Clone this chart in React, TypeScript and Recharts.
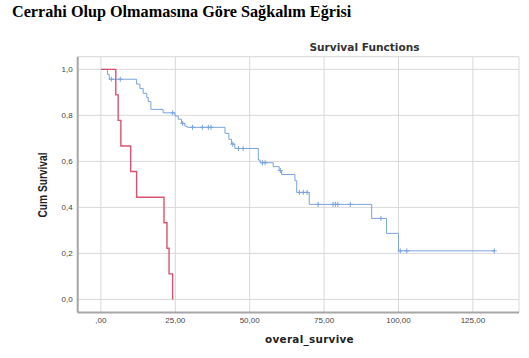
import React from 'react';
import { LineChart, Line, XAxis, YAxis, CartesianGrid } from 'recharts';

// Blue group (survival curve with censoring)
const blueTimes = [0, 2.2, 2.8, 3.5, 6.5, 12.0, 13.1, 14.2, 15.4, 15.9, 16.8, 20.9, 24.1, 24.9, 26.0, 27.1, 27.5, 28.2, 29.0, 30.8, 34.1, 36.1, 37.0, 41.7, 43.0, 43.9, 44.3, 45.0, 46.2, 47.8, 52.9, 53.5, 54.3, 55.2, 57.9, 59.9, 60.3, 60.7, 65.2, 65.8, 66.7, 68.0, 69.3, 70.0, 73.0, 78.0, 78.8, 79.6, 83.8, 91.0, 94.1, 96.0, 100.0, 100.6, 102.8, 132.2];
const blueSurv = [1.0, 0.978, 0.957, 0.957, 0.957, 0.936, 0.917, 0.896, 0.878, 0.86, 0.826, 0.811, 0.811, 0.797, 0.783, 0.765, 0.765, 0.753, 0.748, 0.748, 0.748, 0.748, 0.748, 0.722, 0.696, 0.675, 0.675, 0.656, 0.656, 0.656, 0.606, 0.594, 0.594, 0.594, 0.577, 0.56, 0.56, 0.543, 0.516, 0.465, 0.465, 0.465, 0.465, 0.413, 0.413, 0.413, 0.413, 0.413, 0.413, 0.352, 0.352, 0.287, 0.211, 0.211, 0.211, 0.211];
const blueCensored = [0, 0, 0, 1, 1, 0, 0, 0, 0, 0, 0, 0, 1, 0, 0, 0, 1, 0, 0, 1, 1, 1, 1, 0, 0, 0, 1, 0, 1, 1, 0, 0, 1, 1, 0, 0, 1, 0, 0, 0, 1, 1, 1, 0, 1, 1, 1, 1, 1, 0, 1, 0, 0, 1, 1, 1];

// Red group
const redTimes = [0, 5.0, 5.8, 6.7, 10.0, 12.0, 21.2, 22.2, 22.9, 24.1];
const redSurv = [1.0, 0.889, 0.778, 0.667, 0.556, 0.444, 0.333, 0.222, 0.111, 0.0];

const xTicks = [0, 25, 50, 75, 100, 125];
const yTicks = [0, 0.2, 0.4, 0.6, 0.8, 1.0];

const BLUE = '#7aa3dd';
const RED = '#db5270';

const blueData = blueTimes.map((t, i) => ({ t, s: blueSurv[i], c: blueCensored[i] }));
const redData = redTimes.map((t, i) => ({ t, s: redSurv[i], c: 0 }));

const censorDot = (color: string) => (props: any) => {
  const { cx, cy, payload, index } = props;
  if (!payload || !payload.c) return <g key={`d${index}`} />;
  return (
    <path
      key={`d${index}`}
      d={`M${cx - 2.5},${cy}h5M${cx},${cy - 2.5}v5`}
      stroke={color}
      strokeWidth={1}
      fill="none"
    />
  );
};

const fmtX = (v: number) => (v === 0 ? ',00' : v.toFixed(2).replace('.', ','));
const fmtY = (v: number) => v.toFixed(1).replace('.', ',');

export default function App() {
  return (
    <div style={{ position: 'absolute', left: 0, top: 0, width: 529, height: 358, background: '#fff' }}>
      <LineChart
        width={529}
        height={358}
        margin={{ top: 56.7, right: 10, left: 0, bottom: 0 }}
      >
        <CartesianGrid stroke="#d8d8d8" strokeWidth={1} />
        <XAxis
          type="number"
          dataKey="t"
          domain={[-7.8, 140.5]}
          ticks={xTicks}
          tickFormatter={fmtX}
          allowDataOverflow
          height={45.5}
          tickLine={false}
          tickSize={0}
          tickMargin={4.5}
          axisLine={{ stroke: '#a6a6a6', strokeWidth: 2 }}
          tick={{ fontSize: 8, fill: '#444', fontFamily: 'Liberation Sans, Arial, sans-serif' }}
        />
        <YAxis
          type="number"
          domain={[-0.057, 1.055]}
          ticks={yTicks}
          tickFormatter={fmtY}
          allowDataOverflow
          width={77.7}
          tickLine={false}
          tickSize={0}
          tickMargin={5}
          axisLine={{ stroke: '#a6a6a6', strokeWidth: 2 }}
          tick={{ fontSize: 8, fill: '#444', fontFamily: 'Liberation Sans, Arial, sans-serif' }}
        />
        <Line
          data={blueData}
          dataKey="s"
          type="stepAfter"
          stroke={BLUE}
          strokeWidth={1}
          dot={censorDot(BLUE)}
          activeDot={false}
          isAnimationActive={false}
        />
        <Line
          data={redData}
          dataKey="s"
          type="stepAfter"
          stroke={RED}
          strokeWidth={1.4}
          dot={false}
          activeDot={false}
          isAnimationActive={false}
        />
      </LineChart>
      <svg
        width={529}
        height={358}
        style={{ position: 'absolute', left: 0, top: 0, pointerEvents: 'none' }}
      >
        <text x={12} y={17} fontFamily="'Liberation Serif', 'Times New Roman', serif" fontWeight="bold" fontSize={16.2} fill="#000">
          Cerrahi Olup Olmamasına Göre Sağkalım Eğrisi
        </text>
        <text x={364.5} y={51} textAnchor="middle" fontFamily="'DejaVu Sans', sans-serif" fontWeight="bold" fontSize={10.6} fill="#333">
          Survival Functions
        </text>
        <text
          x={0}
          y={0}
          transform="translate(47,185) rotate(-90)"
          textAnchor="middle"
          fontFamily="'Liberation Sans Narrow', 'Liberation Sans', Arial, sans-serif"
          fontWeight="bold"
          fontSize={12}
          fill="#222"
          textLength={65}
          lengthAdjust="spacingAndGlyphs"
        >
          Cum Survival
        </text>
        <text x={309.5} y={343} textAnchor="middle" fontFamily="'DejaVu Sans', sans-serif" fontWeight="bold" fontSize={10.4} letterSpacing={0.3} fill="#222">
          overal_survive
        </text>
      </svg>
    </div>
  );
}
